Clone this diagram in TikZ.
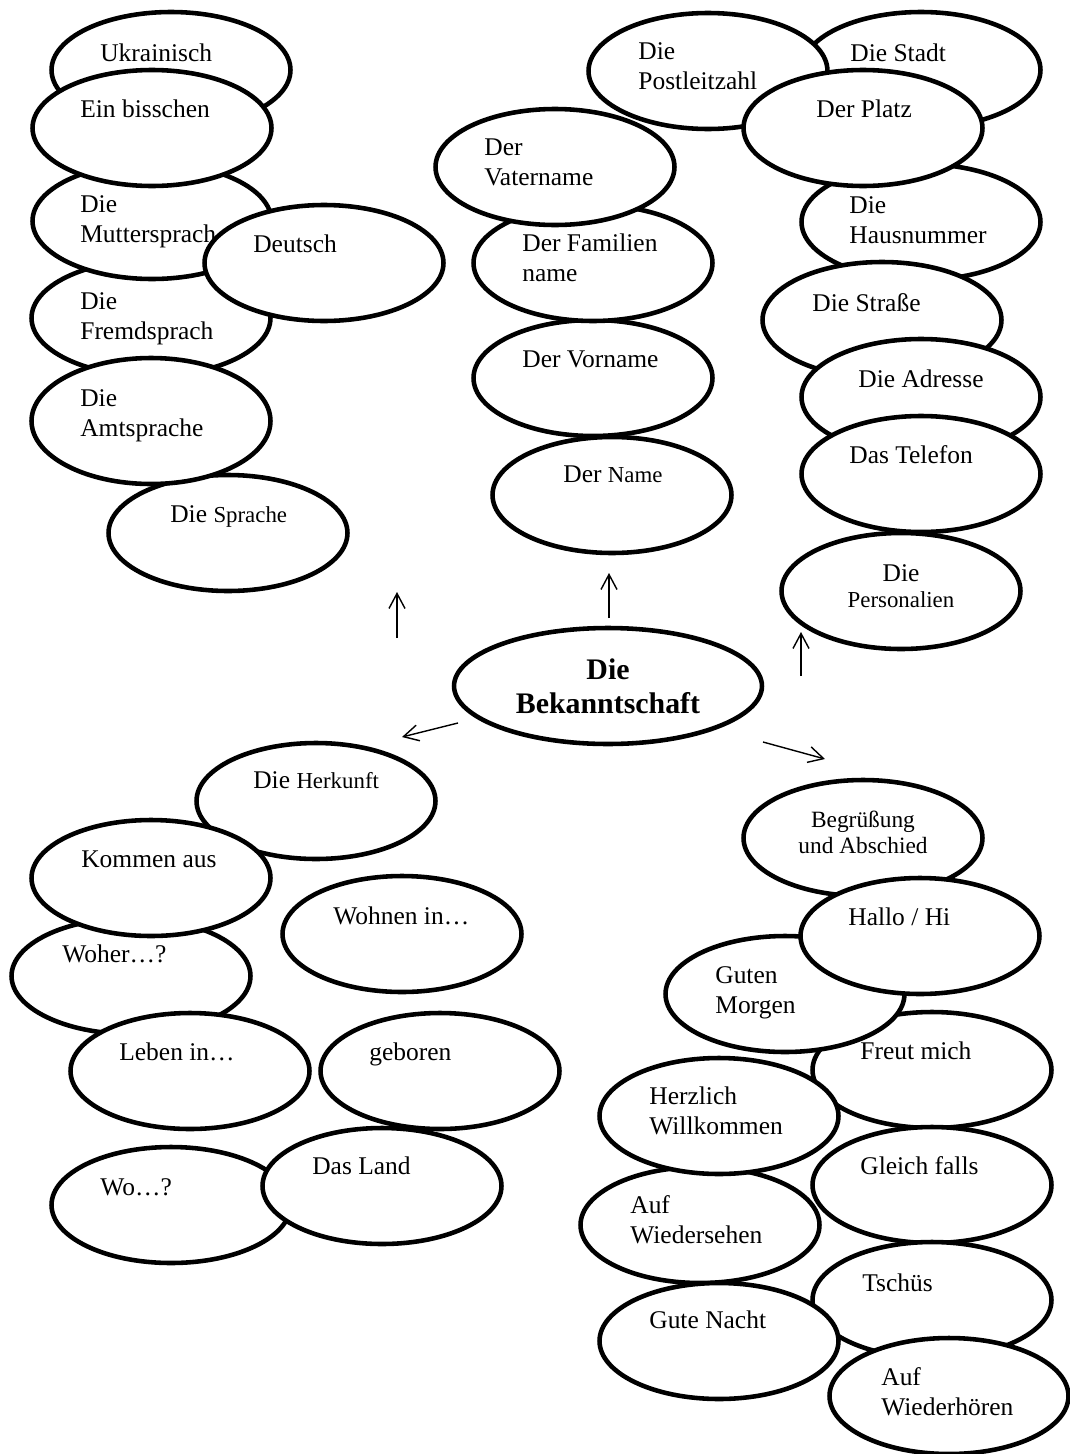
\documentclass[tikz,border=0pt]{standalone}
\usepackage{fontspec}
\setmainfont{Liberation Serif}
\usetikzlibrary{arrows.meta, shapes.geometric}
\newcommand{\smtext}[1]{{\fontsize{13}{15}\selectfont #1}}

\begin{document}
\begin{tikzpicture}[
  x=0.02cm, y=-0.02cm,
  bubble/.style={
    ellipse,
    draw=black,
    fill=white,
    line width=2.6pt,
    minimum width=4.78cm,
    minimum height=2.32cm,
    inner sep=0pt
  },
  word/.style={
    anchor=base west,
    inner sep=0pt,
    align=left,
    font=\fontsize{14.5}{17}\selectfont
  },
  midword/.style={
    anchor=base,
    inner sep=0pt,
    align=center,
    font=\fontsize{#1}{14.8}\selectfont
  },
  link/.style={
    -{Straight Barb[length=3mm, width=3.2mm]},
    line width=0.8pt,
    draw=black
  }
]
\useasboundingbox (0,0) rectangle (1069,1454);

% Sprachen (two-line words sit on their last baseline)
\node[bubble] (ukr) at (171,70) {};
\node[word] (ukr-t) at (100,61) {Ukrainisch};
\node[bubble] (fremd) at (151,318) {};
\node[word] (fremd-t) at (80,339) {Die\\Fremdsprach};
\node[bubble] (mutter) at (152,221) {};
\node[word] (mutter-t) at (80,242) {Die\\Muttersprach};
\node[bubble] (bissch) at (152,128) {};
\node[word] (bissch-t) at (80,117) {Ein bisschen};
\node[bubble] (deutsch) at (324,263) {};
\node[word] (deutsch-t) at (253,252) {Deutsch};
\node[bubble] (sprache) at (228,533) {};
\node[word] (sprache-t) at (170,522) {Die \smtext{Sprache}};
\node[bubble, minimum height=2.52cm] (amt) at (151,421) {};
\node[word] (amt-t) at (80,436) {Die\\Amtsprache};

% Name
\node[bubble] (name) at (612,495) {};
\node[word] (name-t) at (563,482) {Der \smtext{Name}};
\node[bubble] (vorname) at (593,378) {};
\node[word] (vorname-t) at (522,367) {Der Vorname};
\node[bubble] (famil) at (593,263) {};
\node[word] (famil-t) at (522,281) {Der Familien\\name};
\node[bubble] (vater) at (555,167) {};
\node[word] (vater-t) at (484,185) {Der\\Vatername};

% Personalien
\node[bubble] (stadt) at (921,70) {};
\node[word] (stadt-t) at (850,61) {Die Stadt};
\node[bubble] (postl) at (708,71) {};
\node[word] (postl-t) at (638,89) {Die\\Postleitzahl};
\node[bubble] (haus) at (921,222) {};
\node[word] (haus-t) at (849,243) {Die\\Hausnummer};
\node[bubble] (platz) at (863,128) {};
\node[word] (platz-t) at (816,117) {Der Platz};
\node[bubble] (strasse) at (882,320) {};
\node[word] (strasse-t) at (812,311) {Die Straße};
\node[bubble] (adresse) at (921,397) {};
\node[word] (adresse-t) at (858,387) {Die Adresse};
\node[bubble] (telefon) at (921,474) {};
\node[word] (telefon-t) at (849,463) {Das Telefon};
\node[bubble] (person) at (901,591) {};
\node[midword=14.5] (person-t) at (901,607) {Die\\\smtext{Personalien}};

% Mitte
\node[bubble, minimum width=6.16cm, align=center, font=\bfseries\fontsize{17}{19.4}\selectfont] (main) at (608,686) {Die\\Bekanntschaft};

% Herkunft
\node[bubble] (herkunft) at (316,801) {};
\node[word] (herkunft-t) at (253,788) {Die \smtext{Herkunft}};
\node[bubble] (woher) at (131,976) {};
\node[word] (woher-t) at (62,962) {Woher…?};
\node[bubble] (kommen) at (151,878) {};
\node[word] (kommen-t) at (81,867) {Kommen aus};
\node[bubble] (wohnen) at (402,934) {};
\node[word] (wohnen-t) at (333,924) {Wohnen in…};
\node[bubble] (leben) at (190,1071) {};
\node[word] (leben-t) at (119,1060) {Leben in…};
\node[bubble] (geboren) at (440,1071) {};
\node[word] (geboren-t) at (369,1060) {geboren};
\node[bubble] (wo) at (171,1205) {};
\node[word] (wo-t) at (100,1195) {Wo…?};
\node[bubble] (land) at (382,1186) {};
\node[word] (land-t) at (312,1174) {Das Land};

% Begruessung
\node[bubble] (begr) at (863,838) {};
\node[midword=13.3] (begr-t) at (863,853) {Begrüßung\\und Abschied};
\node[bubble] (freut) at (932,1070) {};
\node[word] (freut-t) at (860,1059) {Freut mich};
\node[bubble] (guten) at (785,994) {};
\node[word] (guten-t) at (715,1013) {Guten\\Morgen};
\node[bubble] (hallo) at (920,936) {};
\node[word] (hallo-t) at (848,925) {Hallo / Hi};
\node[bubble] (aufw) at (700,1225) {};
\node[word] (aufw-t) at (630,1243) {Auf\\Wiedersehen};
\node[bubble] (herz) at (719,1116) {};
\node[word] (herz-t) at (649,1134) {Herzlich\\Willkommen};
\node[bubble] (gleich) at (932,1185) {};
\node[word] (gleich-t) at (860,1174) {Gleich falls};
\node[bubble] (tschues) at (932,1300) {};
\node[word] (tschues-t) at (862,1291) {Tschüs};
\node[bubble] (nacht) at (719,1341) {};
\node[word] (nacht-t) at (649,1328) {Gute Nacht};
\node[bubble] (aufwh) at (949,1396) {};
\node[word] (aufwh-t) at (881,1415) {Auf\\Wiederhören};

% Pfeile
\coordinate (sprache-a) at (397,638);
\coordinate (sprache-b) at (397,592);
\coordinate (name-a) at (609,618);
\coordinate (name-b) at (609,573);
\coordinate (herkunft-a) at (458,723);
\coordinate (herkunft-b) at (402,737);
\coordinate (person-a) at (801,676);
\coordinate (person-b) at (801,632);
\coordinate (begr-a) at (763,742);
\coordinate (begr-b) at (825,759);

\draw[link] (sprache-a) -- (sprache-b);
\draw[link] (name-a) -- (name-b);
\draw[link] (herkunft-a) -- (herkunft-b);
\draw[link] (person-a) -- (person-b);
\draw[link] (begr-a) -- (begr-b);
\end{tikzpicture}
\end{document}
